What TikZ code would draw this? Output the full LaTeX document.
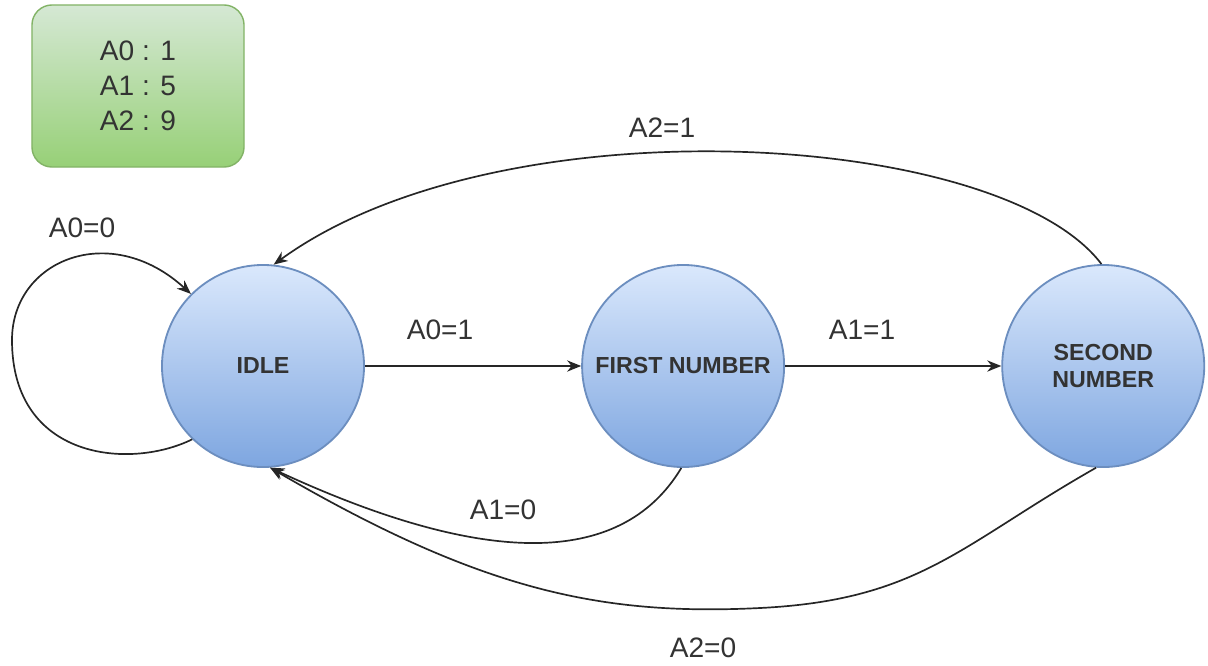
\documentclass[tikz,border=0pt]{standalone}
\usepackage{fontspec}
\setmainfont{Liberation Sans}
\usetikzlibrary{positioning,arrows.meta}

\definecolor{statetop}{HTML}{DAE8FC}
\definecolor{statebot}{HTML}{7EA6E0}
\definecolor{stateline}{HTML}{6C8EBF}
\definecolor{notetop}{HTML}{D5E8D4}
\definecolor{notebot}{HTML}{97D077}
\definecolor{noteline}{HTML}{82B366}

\begin{document}
\begin{tikzpicture}[%
        x=0.025cm, y=-0.025cm,
        >={Stealth[length=10pt,width=8pt]},
        node distance=10.5cm,
        on grid,
        every node/.style={font=\fontsize{20}{25}\selectfont, text=black!80},
        statenode/.style={circle, draw=stateline, line width=1.3pt,
            top color=statetop, bottom color=statebot,
            minimum size=5.05cm, inner sep=0pt, align=center,
            font=\fontsize{16.5}{19}\selectfont\bfseries},
        trans/.style={->, line width=1.2pt, black!85}
        ]

        \useasboundingbox (0,0) rectangle (1208,665);

        \node[draw=noteline, line width=1pt, rounded corners=0.5cm,
            top color=notetop, bottom color=notebot,
            minimum width=5.3cm, minimum height=4.05cm, align=center]
            (vals) at (138,86) {A0 : 1\\A1 : 5\\A2 : 9};

        \node[statenode] (idle) at (263,366) {IDLE};
        \node[statenode] (first) [right=of idle] {FIRST NUMBER};
        \node[statenode] (second) [right=of first] {SECOND\\NUMBER};

        \path[trans] (idle) edge (first);
        \path[trans] (first) edge (second);
        \draw[trans] (idle.226) .. controls (130,470) and (12,460) .. (12,340)
            .. controls (12,260) and (110,220) .. (idle.135);
        \draw[trans] (second.91) .. controls (1000,130) and (500,100) .. (idle.84);
        \draw[trans] (first.269) .. controls (620,570) and (480,565) .. (idle.274);
        \draw[trans] (second.266) .. controls (960,545) and (920,600) .. (760,608)
            .. controls (600,616) and (480,590) .. (idle.274);

        \node (a0zero) at (82,228) {A0=0};
        \node (a0one) at (440,330) {A0=1};
        \node (a1one) at (862,330) {A1=1};
        \node (a2one) at (662,128) {A2=1};
        \node (a1zero) at (503,510) {A1=0};
        \node (a2zero) at (703,648) {A2=0};

        \end{tikzpicture}
\end{document}
